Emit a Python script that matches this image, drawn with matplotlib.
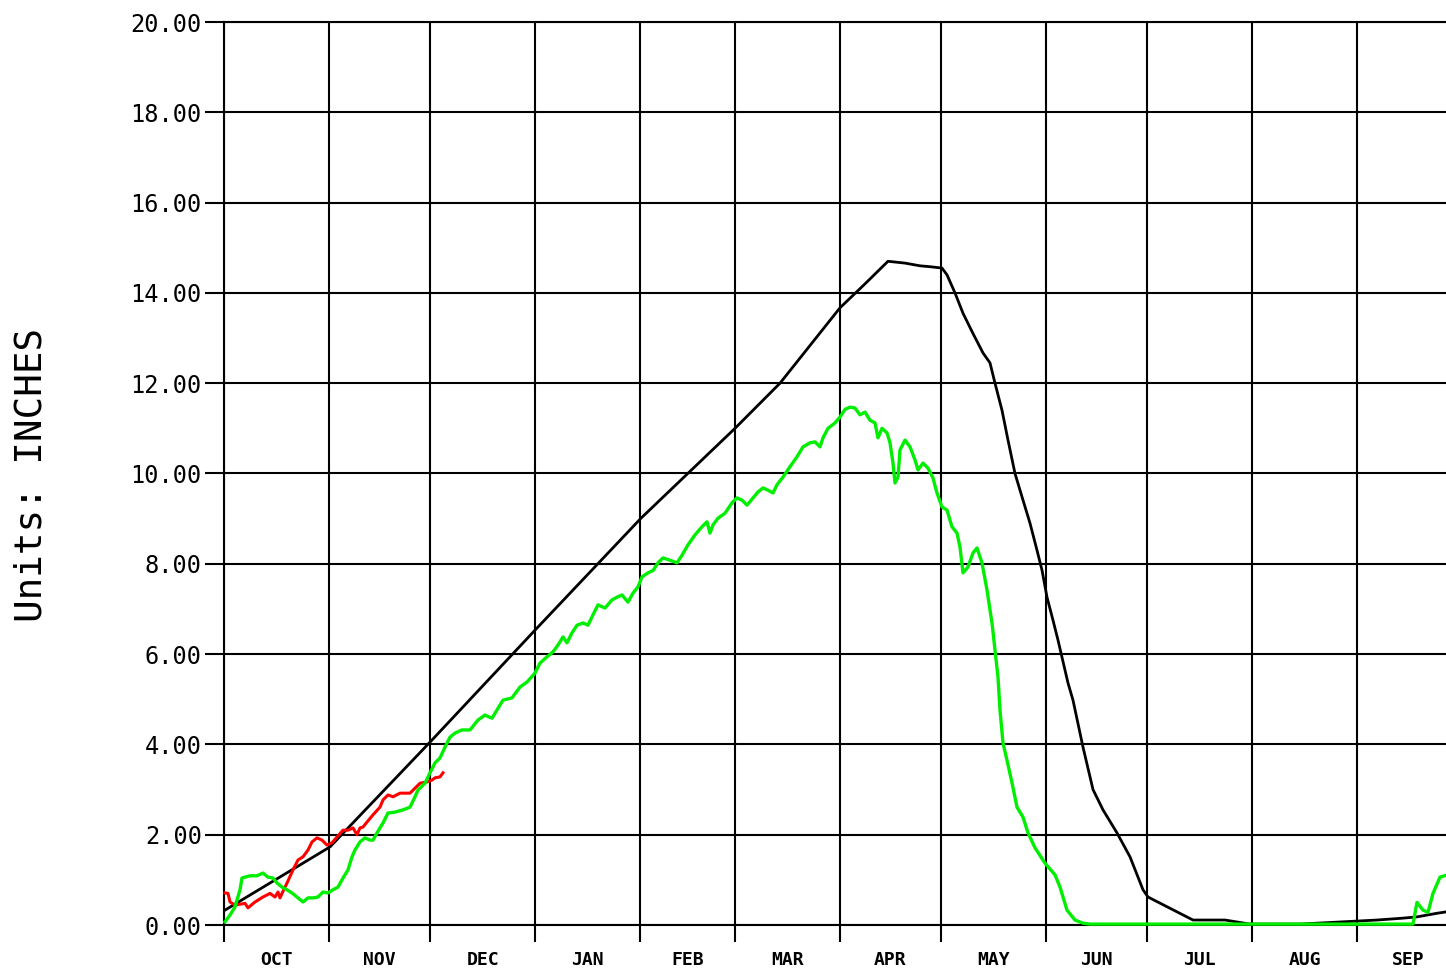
import matplotlib
matplotlib.use("Agg")
import matplotlib.pyplot as plt
import numpy as np

# ---- data (day of water year, value in inches) ----
month_labels = ["OCT", "NOV", "DEC", "JAN", "FEB", "MAR", "APR", "MAY", "JUN", "JUL", "AUG", "SEP"]
month_starts = [0, 31, 61, 92, 123, 151, 182, 212, 243, 273, 304, 335, 365]

PX0, PXD = 224.0, 3.382  # helper to convert read-off pixel columns to days

black_px = [225, 330, 430, 535, 641, 735, 780, 840, 865, 888, 905, 920, 930, 942, 947, 955, 963,
            973, 983, 990, 995, 1002, 1008, 1015, 1023, 1030, 1037, 1042, 1047, 1053, 1058, 1068,
            1073, 1083, 1093, 1103, 1117, 1130, 1143, 1148, 1193, 1225,
            1250, 1300, 1377, 1402, 1417, 1437, 1446]
black_val = [0.33, 1.73, 4.05, 6.53, 9.01, 11.0, 12.0, 13.67, 14.2, 14.7, 14.66, 14.6, 14.58,
             14.55, 14.4, 14.0, 13.55, 13.1, 12.67, 12.45, 12.0, 11.4, 10.74, 10.0, 9.41, 8.9,
             8.3, 7.86, 7.26, 6.75, 6.31, 5.36, 4.98, 3.94, 3.0, 2.55, 2.04, 1.51, 0.78, 0.62,
             0.11, 0.11, 0.02, 0.02, 0.11, 0.15, 0.18, 0.26, 0.29]

red_px = [225, 228, 230, 235, 245, 248, 255, 263, 270, 275, 278, 280, 282, 287, 293, 298, 303,
          308, 312, 317, 322, 327, 332, 337, 343, 348, 353, 357, 360, 363, 367, 373, 380, 383,
          388, 393, 400, 410, 415, 420, 427, 432, 435, 440, 443]
red_val = [0.71, 0.70, 0.51, 0.44, 0.48, 0.38, 0.51, 0.62, 0.70, 0.62, 0.73, 0.60, 0.70, 0.93,
           1.22, 1.44, 1.51, 1.66, 1.84, 1.93, 1.88, 1.77, 1.82, 1.95, 2.10, 2.10, 2.15, 2.00,
           2.15, 2.17, 2.28, 2.44, 2.61, 2.77, 2.88, 2.84, 2.92, 2.92, 3.03, 3.14, 3.17, 3.21,
           3.26, 3.28, 3.37]

green_px = [225, 230, 235, 240, 242, 245, 250, 257, 263, 268, 273, 277, 282, 287, 292, 297, 303,
            308, 313, 318, 323, 328, 333, 338, 343, 348, 352, 355, 360, 365, 370, 373, 377, 383,
            388, 395, 403, 410, 415, 418, 425, 430, 435, 440, 445, 450, 455, 462, 470, 478, 485,
            492, 498, 503, 512, 520, 527, 535, 540, 547, 553, 558, 563, 567, 572, 577, 583, 588,
            593, 598, 605, 612, 617, 622, 628, 633, 638, 642, 648, 653, 658, 663, 670, 677, 682,
            688, 695, 702, 707, 710, 713, 718, 725, 732, 737, 742, 747, 753, 758, 763, 768, 773,
            777, 783, 790, 797, 803, 810, 815, 820, 823, 828, 835, 840, 845, 850, 855, 860, 865,
            870, 875, 878, 882, 887, 890, 893, 895, 898, 900, 905, 910, 915, 918, 923, 928, 933,
            937, 942, 947, 952, 957, 960, 963, 968, 973, 977, 982, 987, 992, 995, 998, 1000, 1003,
            1007, 1012, 1017, 1023, 1028, 1035, 1045, 1055, 1060, 1067, 1075, 1083, 1090, 1200,
            1300, 1413, 1417, 1423, 1428, 1433, 1440, 1446]
green_val = [0.07, 0.22, 0.40, 0.78, 1.04, 1.06, 1.09, 1.09, 1.15, 1.06, 1.04, 0.93, 0.84, 0.78,
             0.71, 0.62, 0.51, 0.60, 0.60, 0.62, 0.73, 0.71, 0.78, 0.84, 1.04, 1.22, 1.51, 1.66,
             1.84, 1.93, 1.88, 1.88, 2.04, 2.26, 2.48, 2.50, 2.55, 2.61, 2.84, 2.99, 3.14, 3.37,
             3.59, 3.70, 3.94, 4.16, 4.25, 4.32, 4.32, 4.54, 4.65, 4.58, 4.80, 4.98, 5.03, 5.27,
             5.38, 5.58, 5.80, 5.94, 6.05, 6.20, 6.38, 6.25, 6.47, 6.64, 6.69, 6.64, 6.87, 7.09,
             7.02, 7.20, 7.26, 7.31, 7.15, 7.35, 7.49, 7.71, 7.80, 7.85, 8.02, 8.13, 8.08, 8.02,
             8.19, 8.42, 8.64, 8.82, 8.93, 8.68, 8.86, 9.01, 9.12, 9.35, 9.46, 9.41, 9.30, 9.46,
             9.59, 9.68, 9.63, 9.57, 9.75, 9.92, 10.15, 10.37, 10.59, 10.68, 10.70, 10.59, 10.79,
             11.00, 11.12, 11.25, 11.42, 11.47, 11.45, 11.30, 11.36, 11.18, 11.12, 10.79, 11.00,
             10.90, 10.68, 10.23, 9.79, 9.92, 10.52, 10.74, 10.59, 10.30, 10.08, 10.23, 10.12,
             9.90, 9.57, 9.26, 9.19, 8.82, 8.68, 8.37, 7.80, 7.93, 8.24, 8.35, 8.02, 7.42, 6.69,
             6.09, 5.49, 4.76, 4.03, 3.65, 3.15, 2.61, 2.39, 2.04, 1.71, 1.37, 1.11, 0.84, 0.33,
             0.11, 0.04, 0.02, 0.02, 0.02, 0.02, 0.50, 0.33, 0.28, 0.70, 1.06, 1.10]

ytick_vals = [0, 2, 4, 6, 8, 10, 12, 14, 16, 18, 20]


def to_days(px):
    return (np.asarray(px, dtype=float) - PX0) / PXD


W, H = 1446, 971
fig = plt.figure(figsize=(W / 100, H / 100), dpi=100)
ax = fig.add_axes([224 / W, (H - 925) / H, 1 - 224 / W, (925 - 22) / H])

font = "DejaVu Sans Mono"
ax.plot(to_days(black_px), black_val, color="black", lw=2.0, clip_on=False, zorder=3)
ax.plot(to_days(red_px), red_val, color="#ff0000", lw=2.2, clip_on=False, zorder=4)
ax.plot(to_days(green_px), green_val, color="#00ee00", lw=2.4, clip_on=False, zorder=5)

ax.set_xlim(0, (W - PX0) / PXD)
ax.set_ylim(0, 20)

ax.set_xticks(month_starts[:-1])
ax.set_xticklabels([])
mids = [(month_starts[i] + month_starts[i + 1]) / 2 for i in range(12)]
ax.set_xticks(mids, minor=True)
ax.set_xticklabels(month_labels, minor=True, fontsize=13, family=font, fontweight="bold")
ax.tick_params(axis="x", which="minor", length=0, pad=19)
ax.tick_params(axis="x", which="major", length=12, width=1.5, direction="out", color="black")

ax.set_yticks(ytick_vals)
ax.set_yticklabels(["%.2f" % v for v in ytick_vals], fontsize=17, family=font)
ax.tick_params(axis="y", length=14, width=1.5, direction="out", pad=2)

ax.grid(True, which="major", color="black", lw=1.5)
for s in ["left", "bottom", "top"]:
    ax.spines[s].set_linewidth(1.5)
ax.spines["right"].set_visible(False)

fig.text(32 / W, 0.5 * ((H - 318) + (H - 632)) / H, "Units: INCHES", rotation=90,
         ha="center", va="center", fontsize=27, family=font)

fig.savefig("out.png", dpi=100)
